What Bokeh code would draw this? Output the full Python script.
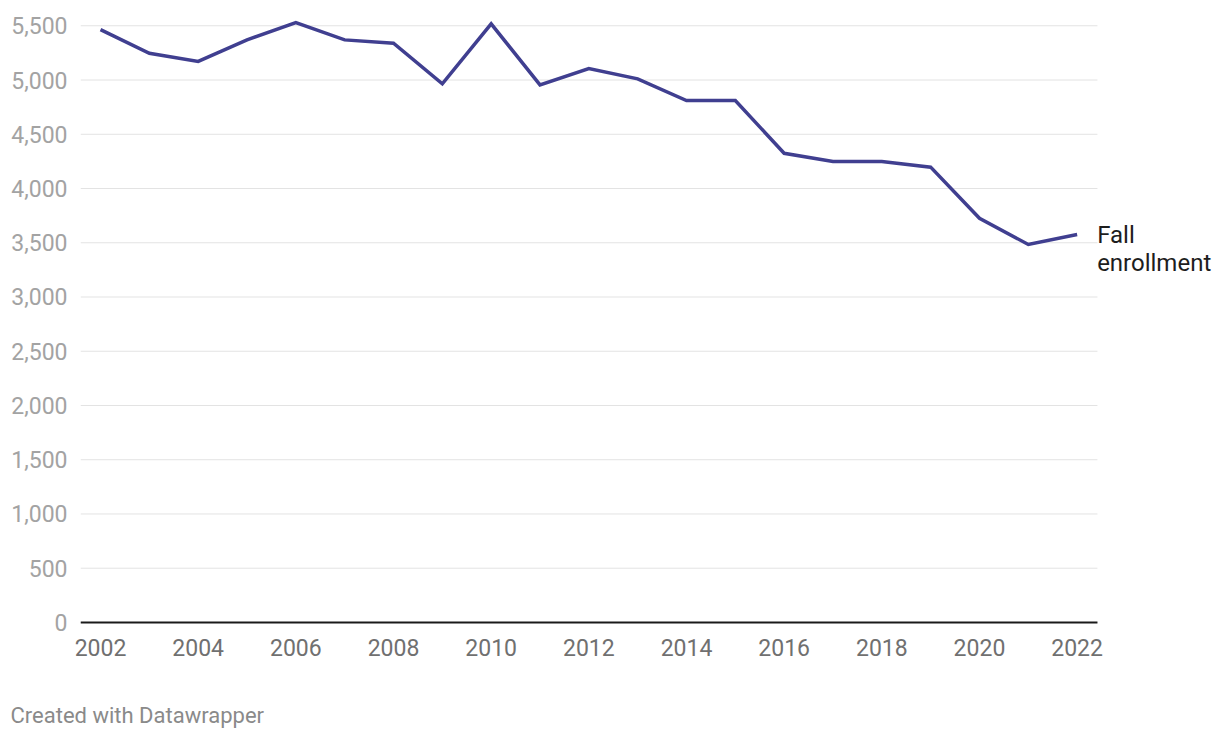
from bokeh.plotting import figure
from bokeh.layouts import column
from bokeh.models import Range1d, FixedTicker, NumeralTickFormatter, Label, ColumnDataSource
from bokeh.embed import file_html
from bokeh.resources import INLINE

years = list(range(2002, 2023))
enrollment = [5465, 5247, 5171, 5370, 5530, 5370, 5339, 4965, 5518, 4955,
              5106, 5011, 4811, 4811, 4325, 4249, 4249, 4197, 3726, 3484, 3576]
y_ticks = [0, 500, 1000, 1500, 2000, 2500, 3000, 3500, 4000, 4500, 5000, 5500]
x_ticks = list(range(2002, 2023, 2))
series_name = ["Fall", "enrollment"]
credit = "Created with Datawrapper"

FONT = "Roboto"
X_START, GRID_END, X_END = 2001.59, 2022.416, 2024.936

p = figure(width=1220, height=700, output_backend="svg", toolbar_location=None,
           x_range=Range1d(X_START, X_END), y_range=Range1d(-28, 5733),
           min_border_left=80, min_border_right=0, min_border_top=0,
           min_border_bottom=75)
p.outline_line_color = None
p.background_fill_color = "white"
p.border_fill_color = "white"
p.frame_align = False

# gridlines and baseline, limited to the data area
p.segment(x0=[X_START] * len(y_ticks), x1=[GRID_END] * len(y_ticks),
          y0=y_ticks, y1=y_ticks, line_color="#e3e3e3", line_width=1)
p.segment(x0=[X_START], x1=[GRID_END], y0=[0], y1=[0],
          line_color="#1a1a1a", line_width=2)

src = ColumnDataSource(dict(x=years, y=enrollment))
p.line("x", "y", source=src, line_color="#403f90", line_width=3.5, line_join="miter")

# y axis
p.yaxis.ticker = FixedTicker(ticks=y_ticks)
p.yaxis.formatter = NumeralTickFormatter(format="0,0")
p.yaxis.axis_line_color = None
p.yaxis.major_tick_line_color = None
p.yaxis.minor_tick_line_color = None
p.yaxis.major_tick_out = 0
p.yaxis.major_tick_in = 0
p.yaxis.major_label_text_font = FONT
p.yaxis.major_label_text_font_size = "23px"
p.yaxis.major_label_text_color = "#a3a3a3"
p.yaxis.major_label_standoff = 13

# x axis
p.xaxis.ticker = FixedTicker(ticks=x_ticks)
p.xaxis.axis_line_color = None
p.xaxis.major_tick_line_color = None
p.xaxis.minor_tick_line_color = None
p.xaxis.major_tick_out = 0
p.xaxis.major_tick_in = 0
p.xaxis.major_label_text_font = FONT
p.xaxis.major_label_text_font_size = "23px"
p.xaxis.major_label_text_color = "#707070"
p.xaxis.major_label_standoff = 13

p.xgrid.grid_line_color = None
p.ygrid.grid_line_color = None

# series label
p.add_layout(Label(x=years[-1], y=enrollment[-1], x_offset=20, y_offset=0,
                   text=series_name[0], text_font=FONT, text_font_size="24px",
                   text_color="#1d1d1d", text_baseline="alphabetic"))
p.add_layout(Label(x=years[-1], y=enrollment[-1], x_offset=20, y_offset=-28,
                   text=series_name[1], text_font=FONT, text_font_size="24px",
                   text_color="#1d1d1d", text_baseline="alphabetic"))

# footer with credit
footer = figure(width=1220, height=38, output_backend="svg", toolbar_location=None,
                x_axis_type=None, y_axis_type=None,
                x_range=Range1d(0, 1), y_range=Range1d(0, 1),
                min_border_left=0, min_border_right=0, min_border_top=0,
                min_border_bottom=0)
footer.outline_line_color = None
footer.xgrid.grid_line_color = None
footer.ygrid.grid_line_color = None
footer.frame_align = False
footer.add_layout(Label(x=10, y=23, x_units="screen", y_units="screen", text=credit,
                        text_font=FONT, text_font_size="22px", text_color="#8a8a8a",
                        text_baseline="alphabetic"))

layout = column(p, footer, spacing=0)
open("out.html", "w").write(file_html(layout, INLINE))
